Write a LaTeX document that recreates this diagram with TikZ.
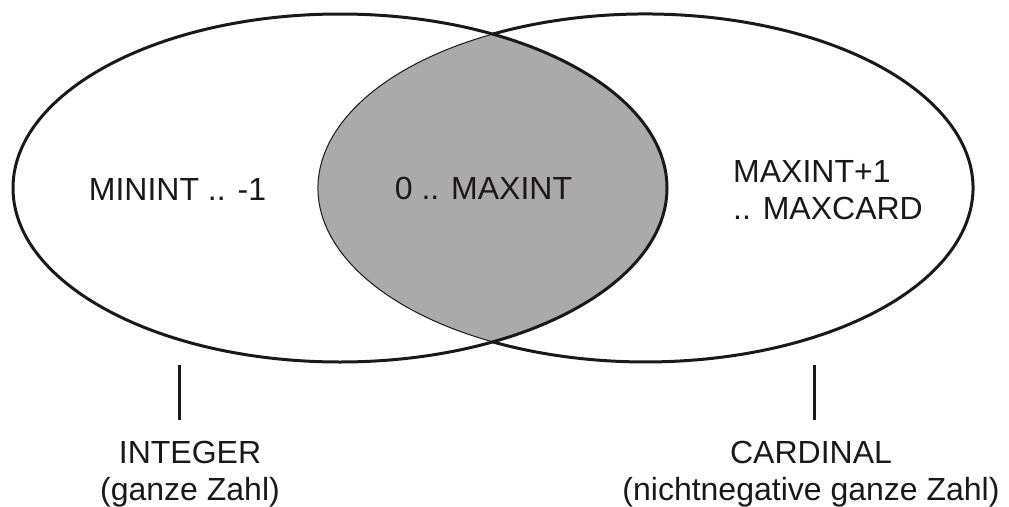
\documentclass[tikz,border=0pt]{standalone}
\usepackage{fontspec}
\setmainfont{Liberation Sans}
\definecolor{lensgray}{RGB}{170,170,170}
\definecolor{ink}{RGB}{28,24,24}
\begin{document}
\begin{tikzpicture}[x=1pt,y=1pt,
  label/.style={font=\fontsize{32}{37}\selectfont, text=ink, inner sep=0pt},
  rim/.style={draw=ink, line width=3pt},
  thinrim/.style={draw=ink, line width=1pt},
  tick/.style={draw=ink, line width=3pt}]
  \useasboundingbox (0,0) rectangle (1009,-506);

  % overlap of the two sets
  \begin{scope}
    \clip (340,-188) ellipse [x radius=327, y radius=174];
    \fill[lensgray] (645.5,-188) ellipse [x radius=327.5, y radius=174];
  \end{scope}

  % CARDINAL set: outer arc heavy, inner arc thin
  \draw[rim] (493,-34) arc [start angle=117.75, end angle=-117.75, x radius=327.5, y radius=174];
  \draw[thinrim] (493,-34) arc [start angle=117.75, end angle=242.25, x radius=327.5, y radius=174];

  % INTEGER set
  \draw[rim] (340,-188) ellipse [x radius=327, y radius=174];

  % set contents (base anchor of a multi-line node = baseline of its last line)
  \node[label, anchor=base] (neg) at (177.5,-200) {MININT .. -1};
  \node[label, anchor=base] (common) at (483.5,-199) {0 .. MAXINT};
  \node[label, anchor=base west, align=left] (upper) at (733,-219) {MAXINT+1\\.. MAXCARD};

  % set names
  \coordinate (lt) at (179,-365);
  \coordinate (lb) at (179,-420);
  \coordinate (rt) at (814,-365);
  \coordinate (rb) at (814,-420);
  \draw[tick] (lt) -- (lb);
  \draw[tick] (rt) -- (rb);
  \node[label, anchor=base, align=center] (intname) at (190,-500) {INTEGER\\(ganze Zahl)};
  \node[label, anchor=base, align=center] (cardname) at (811,-500) {CARDINAL\\(nichtnegative ganze Zahl)};
\end{tikzpicture}
\end{document}
